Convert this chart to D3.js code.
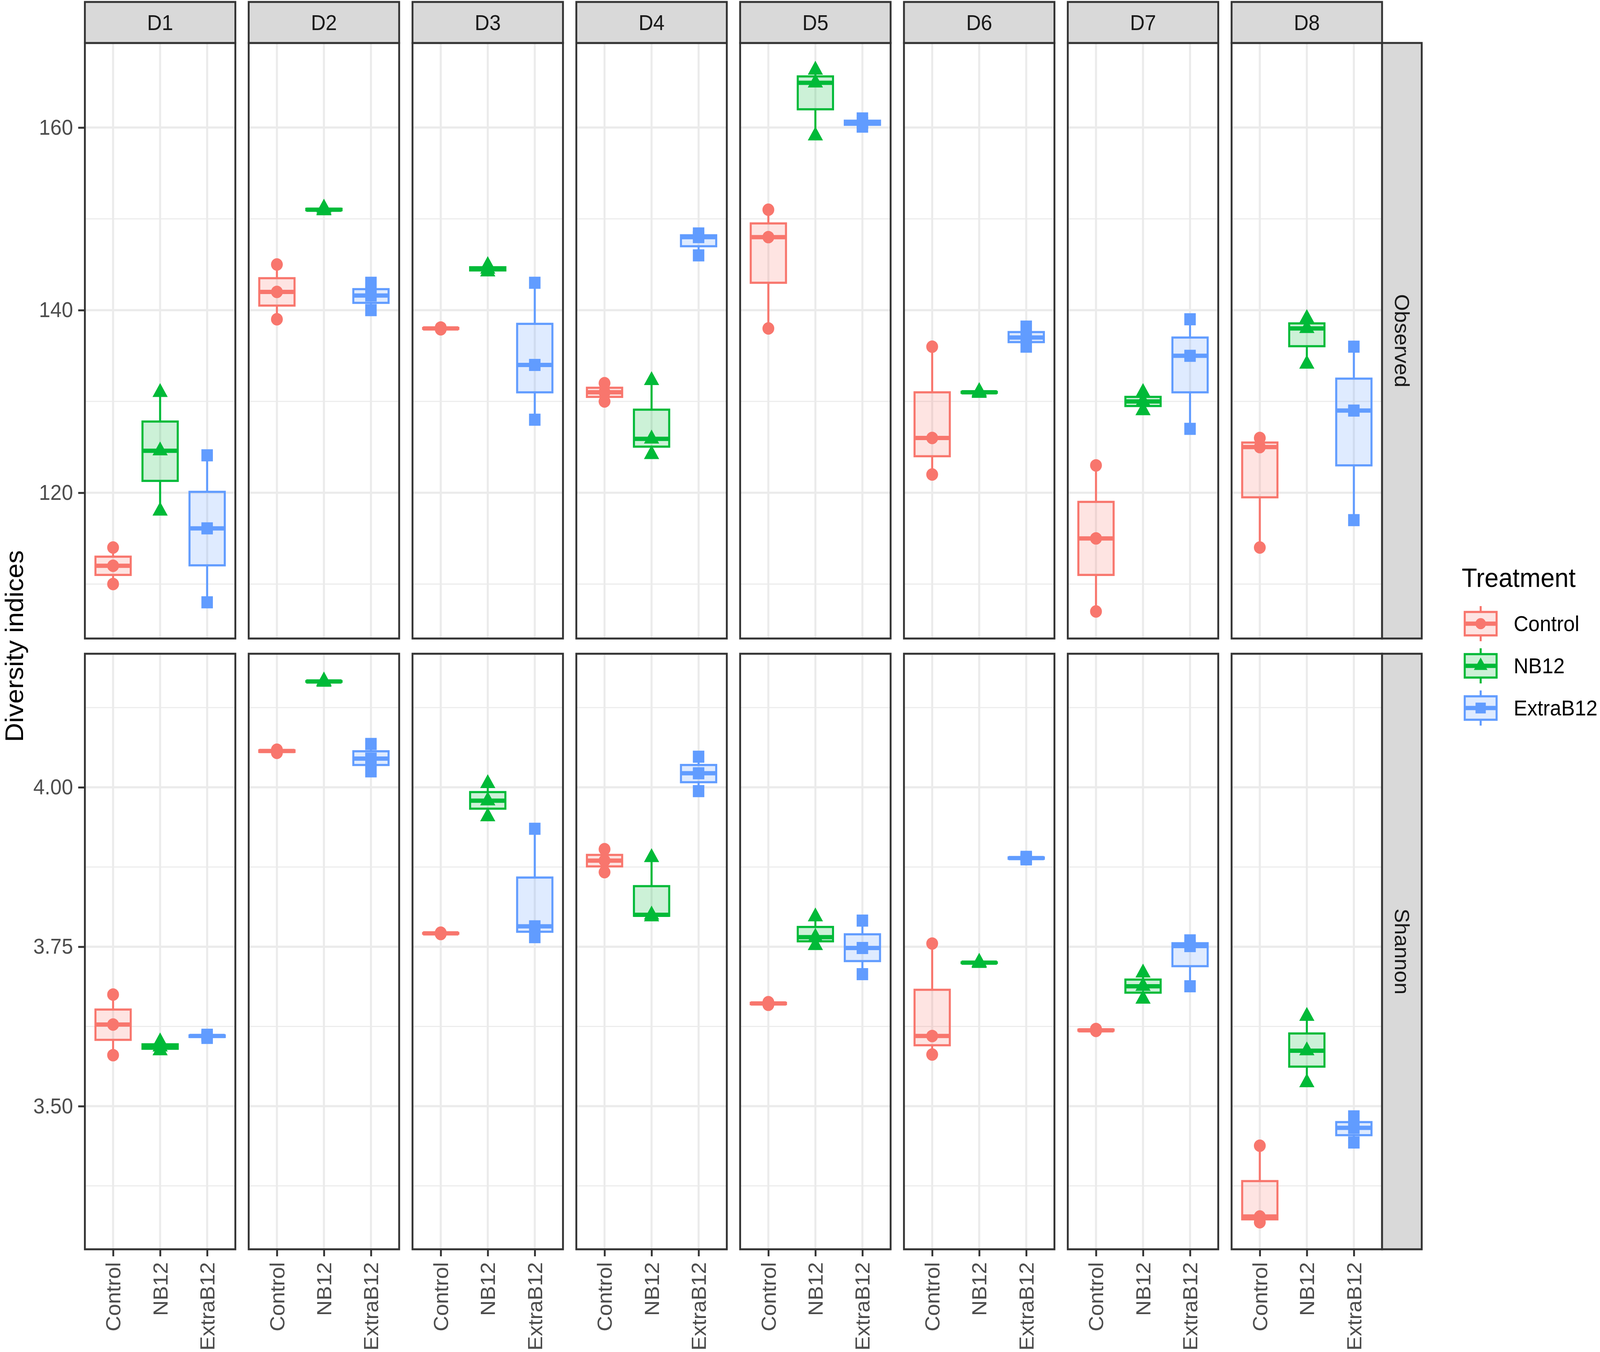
<!DOCTYPE html>
<html>
<head>
<meta charset="utf-8">
<script src="https://cdn.jsdelivr.net/npm/d3@7"></script>
<style>
  html, body { margin: 0; padding: 0; overflow: hidden; background: #ffffff; }
  #chart svg { display: block; width: 100vw; height: 100vh; }
  text { font-family: "Liberation Sans", Arial, Helvetica, sans-serif; }
</style>
</head>
<body>
<div id="chart"></div>
<script>
// Facets and groups
const days = ['D1', 'D2', 'D3', 'D4', 'D5', 'D6', 'D7', 'D8'];
const treatments = ['Control', 'NB12', 'ExtraB12'];
const indices = ['Observed', 'Shannon'];
const treatment_colors = ['#F8766D', '#00BA38', '#619CFF'];

// Observed richness, three samples per group and day (D1..D8)
const observed_control = [[110, 112, 114], [139, 142, 145], [137.9, 138, 138.1], [130, 131, 132],
                          [138, 148, 151], [122, 126, 136], [107, 115, 123], [114, 125, 126]];
const observed_nb12 = [[118, 124.6, 131], [150.9, 151, 151.2], [144.2, 144.5, 144.9], [124.2, 125.9, 132.3],
                       [159.1, 164.9, 166.3], [130.9, 131, 131.1], [129, 130, 131], [134.1, 138, 139.1]];
const observed_extra = [[108, 116.1, 124.1], [140, 141.6, 143], [128, 134, 143], [146, 148, 148.4],
                        [160.1, 160.5, 161], [136, 137, 138.2], [127, 135, 139], [117, 129, 136]];

// Shannon index, three samples per group and day (D1..D8)
const shannon_control = [[3.580, 3.628, 3.675], [4.054, 4.057, 4.059], [3.770, 3.771, 3.772], [3.867, 3.885, 3.903],
                         [3.659, 3.661, 3.663], [3.581, 3.610, 3.755], [3.618, 3.619, 3.621], [3.318, 3.327, 3.438]];
const shannon_nb12 = [[3.587, 3.593, 3.601], [4.165, 4.166, 4.167], [3.954, 3.979, 4.006], [3.797, 3.800, 3.890],
                      [3.752, 3.765, 3.797], [3.724, 3.725, 3.726], [3.668, 3.688, 3.709], [3.537, 3.587, 3.641]];
const shannon_extra = [[3.607, 3.610, 3.612], [4.025, 4.045, 4.068], [3.765, 3.782, 3.935], [3.994, 4.022, 4.048],
                       [3.707, 3.748, 3.791], [3.887, 3.889, 3.891], [3.688, 3.751, 3.760], [3.443, 3.466, 3.484]];

// Axis ticks
const observed_ticks = [120, 140, 160];
const observed_minor = [110, 130, 150];
const shannon_ticks = [3.50, 3.75, 4.00];
const shannon_minor = [3.375, 3.625, 3.875, 4.125];

const values = {
    Observed: [observed_control, observed_nb12, observed_extra],
    Shannon: [shannon_control, shannon_nb12, shannon_extra]
};
const ticks = { Observed: observed_ticks, Shannon: shannon_ticks };
const minor_ticks = { Observed: observed_minor, Shannon: shannon_minor };
const tick_formats = { Observed: d3.format('d'), Shannon: d3.format('.2f') };

var Chart = {
    // Build the whole figure
    init: function() {
        const width = 4317, height = 3462;
        this.panel_left = 229;
        this.panel_width = 406;
        this.panel_step = 442;
        this.strip_top = 5;
        this.strip_height = 105;
        this.row_tops = [110, 1674];
        this.row_height = 1525;
        this.shapes = [d3.symbolCircle, d3.symbolTriangle, d3.symbolSquare];
        this.shape_sizes = [800, 730, 960];
        this.line_width = 5.5;

        // viewBox stretched over the whole window, so the figure fills it
        let svg = this.svg = d3.select('#chart')
                               .append('svg')
                               .attr('viewBox', `0 0 ${width} ${height}`)
                               .attr('preserveAspectRatio', 'none');
        svg.append('rect')
           .attr('width', width)
           .attr('height', height)
           .attr('fill', '#ffffff');

        this.x = d3.scalePoint()
                   .domain(treatments)
                   .range([0, this.panel_width])
                   .padding(0.6);

        this.y = {};
        indices.forEach((idx, r) => {
            const ext = d3.extent(values[idx].flat(2));
            const pad = (ext[1] - ext[0]) * 0.05;
            this.y[idx] = d3.scaleLinear()
                            .domain([ext[0] - pad, ext[1] + pad])
                            .range([this.row_tops[r] + this.row_height, this.row_tops[r]]);
        });

        indices.forEach((idx, r) => {
            days.forEach((day, d) => this.drawPanel(idx, r, d));
            this.drawLeftAxis(idx);
            this.drawRowStrip(idx, r);
        });
        days.forEach((day, d) => {
            this.drawBottomAxis(d);
            this.drawColumnStrip(day, d);
        });
        this.drawTitle();
        this.drawLegend();
    },
    // Left edge of panel column d
    panelX: function(d) {
        return this.panel_left + d * this.panel_step;
    },
    // Box statistics like ggplot (type 7 quantiles, 1.5 IQR whiskers)
    stats: function(arr) {
        const s = arr.slice().sort(d3.ascending);
        const q1 = d3.quantile(s, 0.25), med = d3.quantile(s, 0.5), q3 = d3.quantile(s, 0.75);
        const iqr = q3 - q1;
        const lo = d3.min(s.filter(v => v >= q1 - 1.5 * iqr));
        const hi = d3.max(s.filter(v => v <= q3 + 1.5 * iqr));
        return { q1: q1, med: med, q3: q3, lo: lo, hi: hi };
    },
    // One facet panel: grid, boxes, points, border
    drawPanel: function(idx, r, d) {
        const y = this.y[idx];
        const top = this.row_tops[r], bottom = top + this.row_height;
        let g = this.svg.append('g')
                        .attr('transform', `translate(${this.panelX(d)},0)`);

        g.append('rect')
         .attr('y', top)
         .attr('width', this.panel_width)
         .attr('height', this.row_height)
         .attr('fill', '#ffffff');

        g.selectAll('.minor')
         .data(minor_ticks[idx])
         .join('line')
         .attr('x1', 0).attr('x2', this.panel_width)
         .attr('y1', v => y(v)).attr('y2', v => y(v))
         .attr('stroke', '#EBEBEB')
         .attr('stroke-width', 2.8);
        g.selectAll('.major')
         .data(ticks[idx])
         .join('line')
         .attr('x1', 0).attr('x2', this.panel_width)
         .attr('y1', v => y(v)).attr('y2', v => y(v))
         .attr('stroke', '#EBEBEB')
         .attr('stroke-width', 5.5);
        g.selectAll('.vgrid')
         .data(treatments)
         .join('line')
         .attr('x1', t => this.x(t)).attr('x2', t => this.x(t))
         .attr('y1', top).attr('y2', bottom)
         .attr('stroke', '#EBEBEB')
         .attr('stroke-width', 5.5);

        const bw = this.x.step() * 0.75;
        treatments.forEach((t, i) => {
            const arr = values[idx][i][d];
            const st = this.stats(arr);
            const cx = this.x(t);
            const col = treatment_colors[i];

            g.append('line')
             .attr('x1', cx).attr('x2', cx)
             .attr('y1', y(st.q3)).attr('y2', y(st.hi))
             .attr('stroke', col).attr('stroke-width', this.line_width);
            g.append('line')
             .attr('x1', cx).attr('x2', cx)
             .attr('y1', y(st.q1)).attr('y2', y(st.lo))
             .attr('stroke', col).attr('stroke-width', this.line_width);
            g.append('rect')
             .attr('x', cx - bw / 2)
             .attr('y', y(st.q3))
             .attr('width', bw)
             .attr('height', Math.max(0.5, y(st.q1) - y(st.q3)))
             .attr('fill', col)
             .attr('fill-opacity', 0.2)
             .attr('stroke', col)
             .attr('stroke-width', this.line_width);
            g.append('line')
             .attr('x1', cx - bw / 2).attr('x2', cx + bw / 2)
             .attr('y1', y(st.med)).attr('y2', y(st.med))
             .attr('stroke', col).attr('stroke-width', this.line_width * 2);

            g.selectAll(null)
             .data(arr)
             .join('path')
             .attr('d', d3.symbol().type(this.shapes[i]).size(this.shape_sizes[i]))
             .attr('transform', v => `translate(${cx},${y(v)})`)
             .attr('fill', col);
        });

        g.append('rect')
         .attr('y', top)
         .attr('width', this.panel_width)
         .attr('height', this.row_height)
         .attr('fill', 'none')
         .attr('stroke', '#333333')
         .attr('stroke-width', 5);
    },
    // Shared axis styling
    styleAxis: function(sel) {
        sel.select('.domain').remove();
        sel.selectAll('.tick line')
           .attr('stroke', '#333333')
           .attr('stroke-width', 5);
        sel.selectAll('.tick text')
           .attr('fill', '#4D4D4D')
           .style('font-size', '55px')
           .style('font-family', '"Liberation Sans", Arial, sans-serif');
    },
    // Y axis on the first column
    drawLeftAxis: function(idx) {
        let ax = this.svg.append('g')
                         .attr('transform', `translate(${this.panel_left},0)`)
                         .call(d3.axisLeft(this.y[idx])
                                 .tickValues(ticks[idx])
                                 .tickFormat(tick_formats[idx])
                                 .tickSize(18)
                                 .tickPadding(14));
        this.styleAxis(ax);
    },
    // Rotated treatment labels under the bottom row
    drawBottomAxis: function(d) {
        const bottom = this.row_tops[1] + this.row_height;
        let ax = this.svg.append('g')
                         .attr('transform', `translate(${this.panelX(d)},${bottom})`)
                         .call(d3.axisBottom(this.x).tickSize(18).tickSizeOuter(0));
        this.styleAxis(ax);
        ax.selectAll('.tick text')
          .attr('transform', 'rotate(-90)')
          .attr('x', -33)
          .attr('y', 0)
          .attr('dy', '0.35em')
          .attr('text-anchor', 'end');
    },
    // Day strip above each column
    drawColumnStrip: function(day, d) {
        const x0 = this.panelX(d);
        this.svg.append('rect')
                .attr('x', x0)
                .attr('y', this.strip_top)
                .attr('width', this.panel_width)
                .attr('height', this.strip_height)
                .attr('fill', '#D9D9D9')
                .attr('stroke', '#333333')
                .attr('stroke-width', 5);
        this.svg.append('text')
                .attr('x', x0 + this.panel_width / 2)
                .attr('y', this.strip_top + this.strip_height / 2)
                .attr('dy', '0.35em')
                .attr('text-anchor', 'middle')
                .attr('fill', '#1A1A1A')
                .style('font-size', '55px')
                .text(day);
    },
    // Index strip right of each row
    drawRowStrip: function(idx, r) {
        const x0 = this.panelX(days.length - 1) + this.panel_width;
        const w = 107;
        const cy = this.row_tops[r] + this.row_height / 2;
        this.svg.append('rect')
                .attr('x', x0)
                .attr('y', this.row_tops[r])
                .attr('width', w)
                .attr('height', this.row_height)
                .attr('fill', '#D9D9D9')
                .attr('stroke', '#333333')
                .attr('stroke-width', 5);
        this.svg.append('text')
                .attr('transform', `translate(${x0 + w / 2},${cy}) rotate(90)`)
                .attr('dy', '0.35em')
                .attr('text-anchor', 'middle')
                .attr('fill', '#1A1A1A')
                .style('font-size', '55px')
                .text(idx);
    },
    // Y axis title
    drawTitle: function() {
        const cy = (this.row_tops[0] + this.row_tops[1] + this.row_height) / 2;
        this.svg.append('text')
                .attr('transform', `translate(62,${cy}) rotate(-90)`)
                .attr('text-anchor', 'middle')
                .attr('fill', '#000000')
                .style('font-size', '68px')
                .text('Diversity indices');
    },
    // Treatment legend
    drawLegend: function() {
        let lg = this.svg.append('g');
        lg.append('text')
          .attr('x', 3944)
          .attr('y', 1503)
          .attr('fill', '#000000')
          .style('font-size', '68px')
          .text('Treatment');

        const cx = 3995, key_top = 1597, key_step = 108;
        treatments.forEach((t, i) => {
            const cy = key_top + i * key_step;
            const col = treatment_colors[i];
            lg.append('line')
              .attr('x1', cx).attr('x2', cx)
              .attr('y1', cy - 45).attr('y2', cy + 45)
              .attr('stroke', col).attr('stroke-width', this.line_width);
            lg.append('rect')
              .attr('x', cx - 43).attr('y', cy - 30)
              .attr('width', 86).attr('height', 60)
              .attr('fill', '#ffffff');
            lg.append('rect')
              .attr('x', cx - 43).attr('y', cy - 30)
              .attr('width', 86).attr('height', 60)
              .attr('fill', col).attr('fill-opacity', 0.2)
              .attr('stroke', col).attr('stroke-width', this.line_width);
            lg.append('line')
              .attr('x1', cx - 43).attr('x2', cx + 43)
              .attr('y1', cy).attr('y2', cy)
              .attr('stroke', col).attr('stroke-width', this.line_width * 2);
            lg.append('path')
              .attr('d', d3.symbol().type(this.shapes[i]).size(this.shape_sizes[i] * 0.8))
              .attr('transform', `translate(${cx},${cy})`)
              .attr('fill', col);
            lg.append('text')
              .attr('x', 4084)
              .attr('y', cy)
              .attr('dy', '0.35em')
              .attr('fill', '#000000')
              .style('font-size', '55px')
              .text(t);
        });
    }
};

Chart.init();
</script>
</body>
</html>
